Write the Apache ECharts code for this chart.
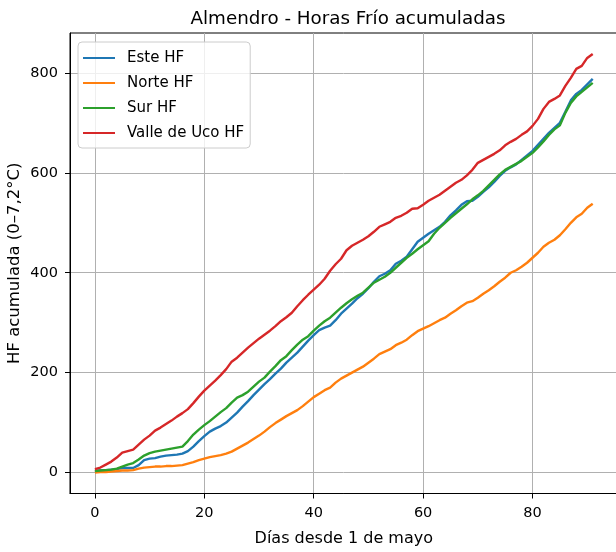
<!DOCTYPE html>
<html>
<head>
<meta charset="utf-8">
<script src="https://cdn.jsdelivr.net/npm/echarts@6/dist/echarts.min.js"></script>
<style>
html,body{margin:0;padding:0;background:#fff;}
#c{width:616px;height:552px;}
</style>
</head>
<body>
<div id="c"></div>
<script>
const seriesNames = ['Este HF', 'Norte HF', 'Sur HF', 'Valle de Uco HF'];
const colors = ['#1f77b4', '#ff7f0e', '#2ca02c', '#d62728'];
const xTicks = [0, 20, 40, 60, 80];
const yTicks = [0, 200, 400, 600, 800];

const este = [3,4,5,6,7,9,9,9,15,25,28,29,32,34,35,36,38,43,52,63,
  73,82,88,93,100,110,120,132,143,155,166,177,187,198,208,220,230,240,252,264,
  275,285,290,294,305,318,328,338,349,358,369,382,393,398,405,418,424,432,447,462,
  470,478,485,492,502,515,525,536,543,544,552,562,571,582,594,604,611,617,626,635,
  644,656,668,680,690,700,722,745,758,766,777,788];
const norte = [0,1,1,2,3,4,4,5,8,10,11,12,12,13,13,14,15,18,21,25,
  28,31,33,35,38,42,48,54,60,67,74,82,91,99,106,113,119,125,133,142,
  151,158,165,170,180,188,194,200,206,212,220,228,237,242,247,255,260,266,275,283,
  288,293,299,305,310,318,325,333,340,343,350,358,365,373,382,390,400,405,412,420,
  430,440,452,460,466,475,487,500,511,518,530,538];
const sur = [3,4,5,6,8,12,16,19,26,34,39,42,44,46,48,50,52,63,76,86,
  95,103,112,121,129,140,150,155,162,172,182,190,202,213,225,233,245,256,266,273,
  284,294,303,310,320,330,339,347,354,360,370,380,386,392,400,410,420,430,438,447,
  455,463,478,490,500,510,519,528,537,547,555,564,575,586,597,606,612,618,624,632,
  640,651,663,676,687,695,720,740,753,762,771,780];
const valle = [7,10,16,22,30,40,43,46,56,66,74,84,90,97,104,112,119,127,139,152,
  164,174,184,195,207,222,230,240,250,259,268,276,284,293,303,311,320,333,345,356,
  366,376,388,404,417,428,445,454,460,466,473,482,492,497,502,510,514,520,528,529,
  536,544,550,556,564,572,580,586,595,606,620,626,632,638,645,655,662,668,676,683,
  694,708,728,742,748,755,774,790,808,814,830,838];

const allValues = [este, norte, sur, valle];
const FONT = 'DejaVu Sans';

const chart = echarts.init(document.getElementById('c'), null, {renderer: 'canvas'});
chart.setOption({
  animation: false,
  backgroundColor: '#ffffff',
  title: {
    text: 'Almendro - Horas Frío acumuladas',
    left: 343, top: 5, textAlign: 'center',
    textStyle: {fontFamily: FONT, fontSize: 18.3, fontWeight: 'normal', color: '#000'}
  },
  legend: {
    orient: 'vertical', left: 78, top: 42,
    padding: [8, 6, 7, 5],
    itemWidth: 32, itemHeight: 2, itemGap: 9,
    icon: 'rect',
    backgroundColor: 'rgba(255,255,255,0.8)',
    borderColor: '#cccccc', borderWidth: 1, borderRadius: 4,
    textStyle: {fontFamily: FONT, fontSize: 15, color: '#000', lineHeight: 16, padding: [0, 0, 0, 7]},
    data: seriesNames
  },
  grid: {
    left: 70, top: 33, width: 547.6, height: 460.5,
    containLabel: false, outerBoundsMode: 'none',
    show: true, borderColor: '#000', borderWidth: 1, backgroundColor: 'transparent'
  },
  xAxis: {
    type: 'value', min: -4.55, max: 95.55,
    name: 'Días desde 1 de mayo', nameLocation: 'middle', nameGap: 37, nameMoveOverlap: false,
    nameTextStyle: {fontFamily: FONT, fontSize: 16, color: '#000'},
    axisLine: {show: true, onZero: false, lineStyle: {color: '#000', width: 1}},
    axisTick: {show: true, inside: false, length: 5, customValues: xTicks, lineStyle: {color: '#000'}},
    axisLabel: {customValues: xTicks, margin: 12, fontFamily: FONT, fontSize: 14.5, color: '#000'},
    splitLine: {show: true, lineStyle: {color: '#b0b0b0', width: 1}}
  },
  yAxis: {
    type: 'value', min: -41.9, max: 879.9,
    name: 'HF acumulada (0–7,2°C)', nameLocation: 'middle', nameGap: 47, nameMoveOverlap: false,
    nameTextStyle: {fontFamily: FONT, fontSize: 16.5, color: '#000'},
    axisLine: {show: true, onZero: false, lineStyle: {color: '#000', width: 1}},
    axisTick: {show: true, inside: false, length: 5, customValues: yTicks, lineStyle: {color: '#000'}},
    axisLabel: {customValues: yTicks, margin: 12, fontFamily: FONT, fontSize: 14.5, color: '#000'},
    splitLine: {show: true, lineStyle: {color: '#b0b0b0', width: 1}}
  },
  series: seriesNames.map((name, i) => ({
    name: name,
    type: 'line',
    symbol: 'none',
    color: colors[i],
    lineStyle: {width: 2.4, color: colors[i]},
    data: allValues[i].map((v, d) => [d, v])
  }))
});
</script>
</body>
</html>
